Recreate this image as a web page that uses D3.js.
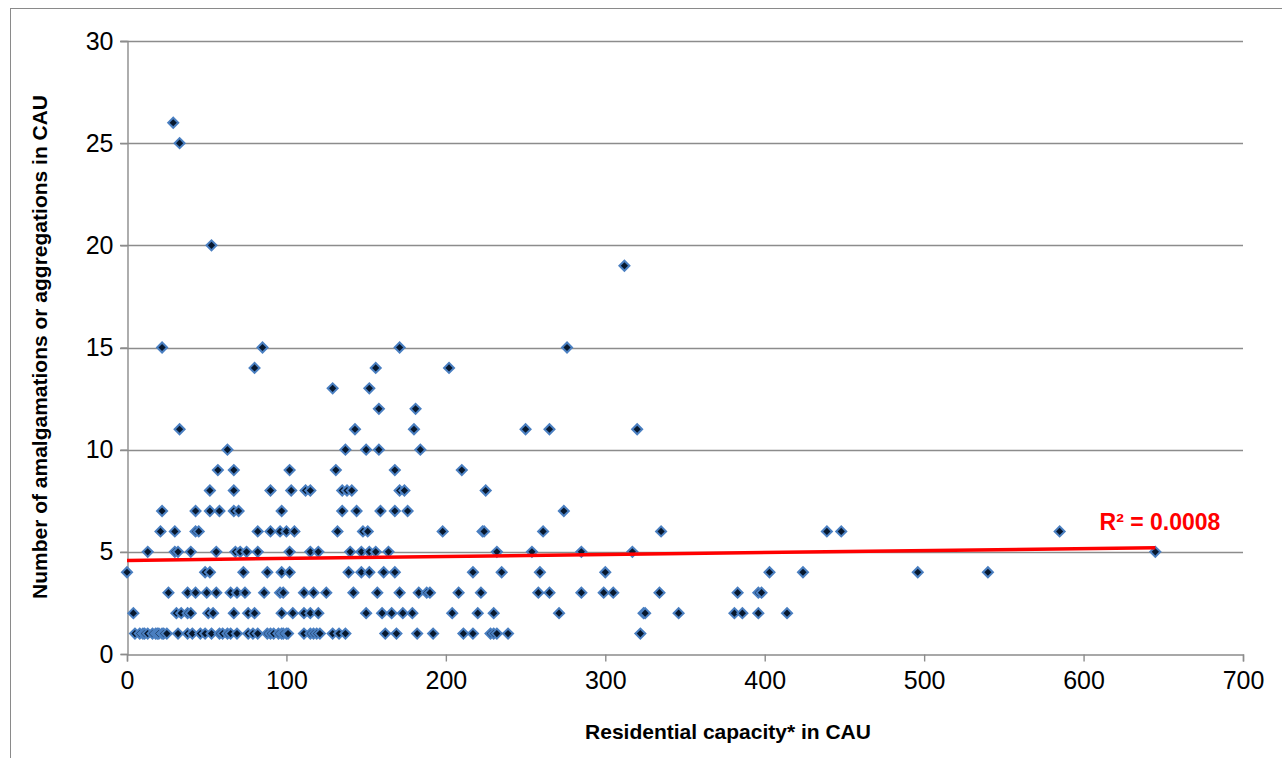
<!DOCTYPE html>
<html>
<head>
<meta charset="utf-8">
<script src="https://cdn.jsdelivr.net/npm/d3@7"></script>
<style>
  body { margin: 0; background: #fff; }
  text { font-family: "Liberation Sans", Arial, sans-serif; }
</style>
</head>
<body>
<div id="chart"></div>
<script>
// residential capacity (x) and number of amalgamations (y), one row per count
var capacity = [
  5, 8, 10, 11, 13, 16, 18, 19, 20, 22, 23, 25, 32, 38, 41, 46, 49, 53, 58, 60, 63, 65, 69, 76, 79, 82, 88, 90, 92, 95, 97, 98, 100, 101, 111, 115, 117, 119, 121, 129, 133, 137, 162, 169, 182, 192, 211, 217, 228, 230, 232, 239, 322,
  4, 31, 34, 38, 40, 51, 54, 67, 76, 80, 97, 104, 111, 115, 120, 150, 160, 166, 173, 179, 204, 220, 230, 271, 324, 325, 346, 381, 386, 396, 414,
  26, 38, 43, 50, 56, 65, 69, 74, 86, 96, 98, 111, 117, 125, 142, 157, 171, 183, 188, 190, 208, 222, 258, 265, 285, 299, 305, 334, 383, 396, 398,
  0, 49, 52, 73, 88, 97, 102, 139, 147, 152, 161, 168, 217, 235, 259, 300, 403, 424, 496, 540,
  13, 30, 32, 40, 56, 68, 71, 75, 82, 102, 115, 120, 140, 147, 152, 156, 164, 232, 254, 285, 317, 645,
  21, 30, 43, 45, 82, 90, 96, 100, 105, 132, 148, 151, 198, 223, 224, 261, 335, 439, 448, 585,
  22, 43, 52, 58, 67, 70, 97, 135, 144, 159, 168, 176, 274,
  52, 67, 90, 103, 112, 115, 135, 138, 141, 171, 174, 225,
  57, 67, 102, 131, 168, 210,
  63, 137, 150, 158, 184,
  33, 143, 180, 250, 265, 320,
  158, 181,
  129, 152,
  80, 156, 202,
  22, 85, 171, 276,
  312,
  53,
  33,
  29
];
var rowCounts = [1, 2, 3, 4, 5, 6, 7, 8, 9, 10, 11, 12, 13, 14, 15, 19, 20, 25, 26];
var rowSizes = [53, 31, 31, 20, 22, 20, 13, 12, 6, 5, 6, 2, 2, 3, 4, 1, 1, 1, 1];

// linear trendline as shown in the chart
var trendIntercept = 4.58;
var trendSlope = 0.00096;
var trendRange = [0, 645];
var trendLabel = "R\u00b2 = 0.0008";

var xTicks = [0, 100, 200, 300, 400, 500, 600, 700];
var yTicks = [0, 5, 10, 15, 20, 25, 30];

// expand rows into points
var amalgamations = [];
rowSizes.forEach(function (n, i) {
  for (var k = 0; k < n; k++) amalgamations.push(rowCounts[i]);
});
var points = capacity.map(function (c, i) { return { x: c, y: amalgamations[i] }; });

var width = 1282, height = 758;
var plot = { left: 127, right: 1243, top: 41, bottom: 654 };

var svg = d3.select("#chart")
  .append("svg")
  .attr("width", width)
  .attr("height", height);

// chart frame (runs off the right and bottom edges)
svg.append("rect")
  .attr("x", 10.5).attr("y", 8.5)
  .attr("width", 1400).attr("height", 900)
  .attr("fill", "none")
  .attr("stroke", "#8a8a8a")
  .attr("stroke-width", 1);

var x = d3.scaleLinear().domain([0, 700]).range([plot.left, plot.right]);
var y = d3.scaleLinear().domain([0, 30]).range([plot.bottom, plot.top]);

// gridlines
svg.append("g")
  .selectAll("line")
  .data(yTicks.filter(function (t) { return t > 0; }))
  .enter()
  .append("line")
  .attr("x1", plot.left - 7)
  .attr("x2", plot.right)
  .attr("y1", function (d) { return Math.round(y(d)) + 0.5; })
  .attr("y2", function (d) { return Math.round(y(d)) + 0.5; })
  .attr("stroke", "#8c8c8c")
  .attr("stroke-width", 1.4);

// Y axis
var yAxis = svg.append("g")
  .attr("transform", "translate(" + (plot.left + 0.5) + ",0)")
  .call(d3.axisLeft(y).tickValues(yTicks).tickSize(7).tickPadding(7));

// X axis
var xAxis = svg.append("g")
  .attr("transform", "translate(0," + (plot.bottom + 0.5) + ")")
  .call(d3.axisBottom(x).tickValues(xTicks).tickSize(7).tickPadding(10));

[xAxis, yAxis].forEach(function (ax) {
  ax.select(".domain").attr("stroke", "#8c8c8c").attr("stroke-width", 1.4);
  ax.selectAll(".tick line").attr("stroke", "#8c8c8c").attr("stroke-width", 1.4);
  ax.selectAll(".tick text")
    .attr("fill", "#000")
    .style("font-size", "25px")
    .style("font-family", "'Liberation Sans', Arial, sans-serif");
});

// points
svg.append("g")
  .selectAll("path")
  .data(points)
  .enter()
  .append("path")
  .attr("d", d3.symbol().type(d3.symbolSquare).size(50))
  .attr("transform", function (d) { return "translate(" + x(d.x) + "," + y(d.y) + ") rotate(45)"; })
  .attr("fill", "#07182e")
  .attr("stroke", "#4a7fc1")
  .attr("stroke-width", 2);

// trendline
svg.append("line")
  .attr("x1", x(trendRange[0]))
  .attr("y1", y(trendIntercept + trendSlope * trendRange[0]))
  .attr("x2", x(trendRange[1]))
  .attr("y2", y(trendIntercept + trendSlope * trendRange[1]))
  .attr("stroke", "#ff0000")
  .attr("stroke-width", 3.5);

svg.append("text")
  .attr("x", 1160)
  .attr("y", 530)
  .attr("text-anchor", "middle")
  .attr("fill", "#ff0000")
  .style("font-size", "23px")
  .style("font-weight", "bold")
  .text(trendLabel);

// axis titles
svg.append("text")
  .attr("x", 728)
  .attr("y", 739)
  .attr("text-anchor", "middle")
  .style("font-size", "21px")
  .style("font-weight", "bold")
  .text("Residential capacity* in CAU");

svg.append("text")
  .attr("transform", "translate(47,347) rotate(-90)")
  .attr("text-anchor", "middle")
  .style("font-size", "21px")
  .style("font-weight", "bold")
  .text("Number of amalgamations or aggregations in CAU");
</script>
</body>
</html>
